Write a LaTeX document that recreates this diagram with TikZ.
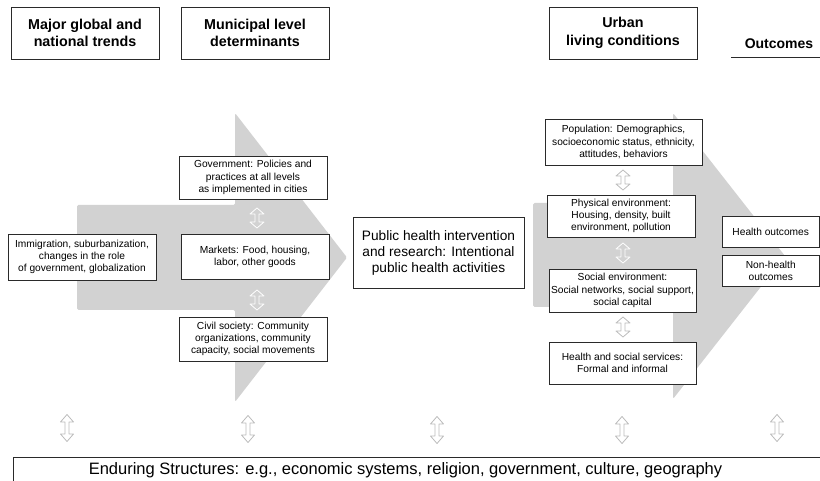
\documentclass[tikz,border=0pt]{standalone}
\usepackage{fontspec}
\setmainfont{Liberation Sans}
\usetikzlibrary{calc}
\definecolor{arrowgray}{HTML}{D2D2D2}
\definecolor{dblgray}{HTML}{BBBBBB}
\definecolor{edge}{HTML}{2A2A2A}
\begin{document}
\begin{tikzpicture}[x=1pt,y=-1pt,
 box/.style={draw=edge, line width=0.9pt, fill=white, inner sep=0pt, align=center, font=\fontsize{10.2}{12.2}\selectfont},
 headbox/.style={draw=edge, line width=0.9pt, fill=white, inner sep=0pt, align=center, font=\fontsize{14.3}{17.5}\selectfont\bfseries},
 bigarrow/.style={fill=arrowgray, rounded corners=1.5pt},
 dblS/.pic={\draw[line width=0.8pt, line join=round] (0,-10) -- (7,-4) -- (2,-4) -- (2,4) -- (7,4) -- (0,10) -- (-7,4) -- (-2,4) -- (-2,-4) -- (-7,-4) -- cycle;},
 dblL/.pic={\draw[line width=0.8pt, line join=round] (0,-13.5) -- (6.5,-6) -- (2,-6) -- (2,6) -- (6.5,6) -- (0,13.5) -- (-6.5,6) -- (-2,6) -- (-2,-6) -- (-6.5,-6) -- cycle;}
]
\useasboundingbox (0,0) rectangle (820,481);
% big background arrows
\fill[bigarrow] (77,205) -- (235,205) -- (235,113) -- (347,257.5) -- (235,402) -- (235,310) -- (77,310) -- cycle;
\fill[bigarrow] (533,203) -- (673,203) -- (673,113) -- (785,256) -- (673,399) -- (673,307) -- (533,307) -- cycle;

% headers
\node[headbox, minimum width=148pt, minimum height=52pt] (h1) at (85,33) {Major global and\\national trends};
\node[headbox, minimum width=148pt, minimum height=52pt] (h2) at (255,33) {Municipal level\\determinants};
\node[headbox, minimum width=148pt, minimum height=52pt] (h3) at (623,33) {Urban\\living conditions};
\node[font=\fontsize{14}{17}\selectfont\bfseries, inner sep=0pt] (outc) at (779,44) {Outcomes};
\draw[edge, line width=0.9pt] (731,57) -- (820,57);

% left column
\node[box, minimum width=148pt, minimum height=46pt] (imm) at (82,257) {Immigration, suburbanization,\\changes in the role\\of government, globalization};
\node[box, minimum width=148pt, minimum height=43pt] (gov) at (253,177.5) {Government: Policies and\\practices at all levels\\as implemented in cities};
\node[box, minimum width=148pt, minimum height=45pt] (mkt) at (255,256.5) {Markets: Food, housing,\\labor, other goods};
\node[box, minimum width=148pt, minimum height=44pt] (civ) at (253,339) {Civil society: Community\\organizations, community\\capacity, social movements};

% middle
\node[box, minimum width=171pt, minimum height=71pt, font=\fontsize{13.7}{16}\selectfont] (ph) at (438.5,252.5) {Public health intervention\\and research: Intentional\\public health activities};

% right column
\node[box, minimum width=157pt, minimum height=46pt] (pop) at (623.5,142) {Population: Demographics,\\socioeconomic status, ethnicity,\\attitudes, behaviors};
\node[box, minimum width=148pt, minimum height=42pt] (phy) at (621,216) {Physical environment:\\Housing, density, built\\environment, pollution};
\node[box, minimum width=147pt, minimum height=43pt] (soc) at (622.5,290.5) {Social environment:\\Social networks, social support,\\social capital};
\node[box, minimum width=147pt, minimum height=42pt] (hss) at (622.5,363) {Health and social services:\\Formal and informal};

% outcomes
\node[box, minimum width=97.5pt, minimum height=31pt] (ho) at (770.75,231.5) {Health outcomes};
\node[box, minimum width=97.5pt, minimum height=31pt] (nho) at (770.75,270.5) {Non-health\\outcomes};

% enduring structures
\node[box, minimum width=809pt, minimum height=27pt, font=\fontsize{16.5}{19}\selectfont] (end) at (417.5,470.5) {\hspace*{-24pt}Enduring Structures: e.g., economic systems, religion, government, culture, geography};

% double arrows
\pic[white] at (257,218) {dblS};
\pic[white] at (257,300) {dblS};
\pic[dblgray] at (623,180) {dblS};
\pic[white] at (623,253) {dblS};
\pic[dblgray] at (623,327) {dblS};
\pic[dblgray] at (67,428) {dblL};
\pic[dblgray] at (248,429) {dblL};
\pic[dblgray] at (437,430) {dblL};
\pic[dblgray] at (622,430) {dblL};
\pic[dblgray] at (777,428) {dblL};
\end{tikzpicture}
\end{document}
